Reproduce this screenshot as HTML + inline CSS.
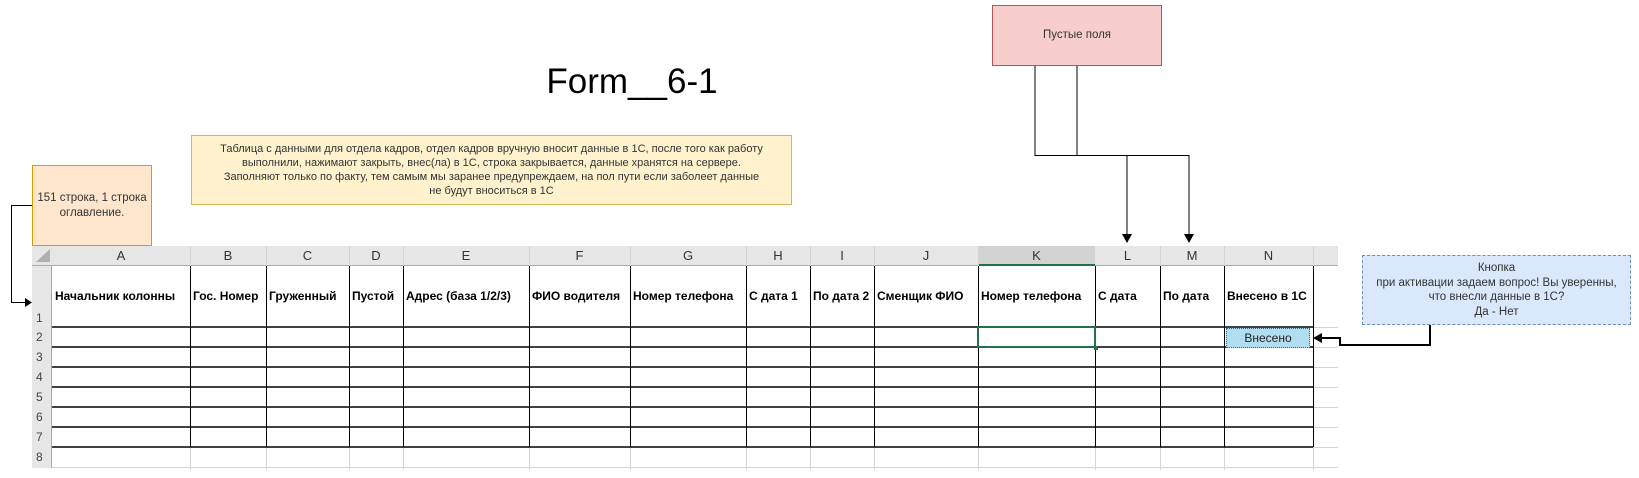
<!DOCTYPE html>
<html><head><meta charset="utf-8"><style>
body{margin:0;width:1639px;height:478px;background:#fff;position:relative;overflow:hidden;font-family:"Liberation Sans",sans-serif}
.a{position:absolute;box-sizing:border-box}
.box{display:flex;align-items:center;justify-content:center;text-align:center;font-size:11.5px;color:#333;line-height:15px}
.hd{position:absolute;top:246px;height:20px;font-size:13px;color:#333;text-align:center;line-height:20px;border-right:1px solid #d4d4d4}
.h1{position:absolute;top:289px;font-size:12px;font-weight:bold;white-space:nowrap;overflow:hidden;color:#000}
.rn{position:absolute;left:32px;width:20px;font-size:12px;color:#444;padding-left:4px;box-sizing:border-box}
</style></head><body>
<div class="a box" style="left:992px;top:5px;width:170px;height:61px;background:#f8cecc;border:1px solid #b85450">Пустые поля</div>
<div class="a" style="left:0;top:62px;width:1264px;text-align:center;font-size:35px;color:#000">Form__6-1</div>
<div class="a box" style="left:191px;top:135px;width:601px;height:70px;background:#fff2cc;border:1px solid #d6b656;font-size:11px;line-height:14px;padding:0 2px;white-space:nowrap">Таблица с данными для отдела кадров, отдел кадров вручную вносит данные в 1С, после того как работу<br>выполнили, нажимают закрыть, внес(ла) в 1С, строка закрывается, данные хранятся на сервере.<br>Заполняют только по факту, тем самым мы заранее предупреждаем, на пол пути если заболеет данные<br>не будут вноситься в 1С</div>
<div class="a box" style="left:32px;top:165px;width:120px;height:81px;background:#ffe6cc;border:1px solid #d79b00">151 строка, 1 строка оглавление.</div>
<div class="a box" style="left:1362px;top:255px;width:269px;height:70px;background:#dae8fc;border:1px dashed #6c8ebf;font-size:11.5px;line-height:14.5px;white-space:nowrap">Кнопка<br>при активации задаем вопрос! Вы уверенны,<br>что внесли данные в 1С?<br>Да - Нет</div>

<div class="a" style="left:32px;top:246px;width:1306px;height:20px;background:#e6e6e6;border-bottom:1px solid #ababab"></div>
<div class="a" style="left:32px;top:266px;width:20px;height:202px;background:#e6e6e6;border-right:1px solid #ababab"></div>
<div class="a" style="left:978px;top:246px;width:117px;height:20px;background:#d2d2d2;border-bottom:2px solid #217346"></div>
<svg class="a" style="left:0;top:0" width="1639" height="478">
<polygon points="36,262 50,262 50,249" fill="#b0b0b0"/>
<g stroke="#d4d4d4" stroke-width="1">
<line x1="52" y1="467.5" x2="1338" y2="467.5"/>
<line x1="1313" y1="327.5" x2="1338" y2="327.5"/>
<line x1="1313" y1="347.5" x2="1338" y2="347.5"/><line x1="1313" y1="367.5" x2="1338" y2="367.5"/>
<line x1="1313" y1="387.5" x2="1338" y2="387.5"/><line x1="1313" y1="407.5" x2="1338" y2="407.5"/>
<line x1="1313" y1="427.5" x2="1338" y2="427.5"/><line x1="1313" y1="447.5" x2="1338" y2="447.5"/>
<line x1="190.5" y1="447" x2="190.5" y2="470"/><line x1="266.5" y1="447" x2="266.5" y2="470"/>
<line x1="349.5" y1="447" x2="349.5" y2="470"/><line x1="403.5" y1="447" x2="403.5" y2="470"/>
<line x1="529.5" y1="447" x2="529.5" y2="470"/><line x1="630.5" y1="447" x2="630.5" y2="470"/>
<line x1="746.5" y1="447" x2="746.5" y2="470"/><line x1="810.5" y1="447" x2="810.5" y2="470"/>
<line x1="874.5" y1="447" x2="874.5" y2="470"/><line x1="978.5" y1="447" x2="978.5" y2="470"/>
<line x1="1095.5" y1="447" x2="1095.5" y2="470"/><line x1="1160.5" y1="447" x2="1160.5" y2="470"/>
<line x1="1224.5" y1="447" x2="1224.5" y2="470"/><line x1="1313.5" y1="447" x2="1313.5" y2="470"/>
</g>
<g stroke="#000" stroke-width="1.5">
<line x1="52" y1="327" x2="1313" y2="327"/><line x1="52" y1="347" x2="1313" y2="347"/>
<line x1="52" y1="367" x2="1313" y2="367"/><line x1="52" y1="387" x2="1313" y2="387"/>
<line x1="52" y1="407" x2="1313" y2="407"/><line x1="52" y1="427" x2="1313" y2="427"/>
<line x1="52" y1="447" x2="1313" y2="447"/>
</g>
<g stroke="#000" stroke-width="1">
<line x1="190.5" y1="266" x2="190.5" y2="447"/><line x1="266.5" y1="266" x2="266.5" y2="447"/>
<line x1="349.5" y1="266" x2="349.5" y2="447"/><line x1="403.5" y1="266" x2="403.5" y2="447"/>
<line x1="529.5" y1="266" x2="529.5" y2="447"/><line x1="630.5" y1="266" x2="630.5" y2="447"/>
<line x1="746.5" y1="266" x2="746.5" y2="447"/><line x1="810.5" y1="266" x2="810.5" y2="447"/>
<line x1="874.5" y1="266" x2="874.5" y2="447"/><line x1="978.5" y1="266" x2="978.5" y2="447"/>
<line x1="1095.5" y1="266" x2="1095.5" y2="447"/><line x1="1160.5" y1="266" x2="1160.5" y2="447"/>
<line x1="1224.5" y1="266" x2="1224.5" y2="447"/><line x1="1313.5" y1="266" x2="1313.5" y2="447"/>
</g>
<rect x="978" y="327" width="117" height="20" fill="none" stroke="#217346" stroke-width="2"/>
<rect x="1094" y="346" width="4" height="4" fill="#217346"/>
<g stroke="#000" stroke-width="1" fill="none">
<polyline points="1035,66 1035,155.5 1189,155.5 1189,236"/>
<polyline points="1077,66 1077,155.5"/>
<line x1="1127" y1="155.5" x2="1127" y2="236"/>
<polyline points="32,205.5 11.5,205.5 11.5,302.5 26,302.5"/>
<polyline points="1430,325 1430,345 1340,345 1340,338 1320,338" stroke-width="2"/>
</g>
<polygon points="1122,234 1132,234 1127,243" fill="#000"/>
<polygon points="1184,234 1194,234 1189,243" fill="#000"/>
<polygon points="25,298 25,307 32,302.5" fill="#000"/>
<polygon points="1322,333 1322,343 1313,338" fill="#000"/>
</svg>
<div class="a" style="left:1226px;top:328px;width:84px;height:20px;background:#b1ddf0;border:1px dotted #10739e;font-size:12px;text-align:center;line-height:18px;color:#222">Внесено</div>

<div class="hd" style="left:52px;width:138px">A</div>
<div class="hd" style="left:190px;width:76px">B</div>
<div class="hd" style="left:266px;width:83px">C</div>
<div class="hd" style="left:349px;width:54px">D</div>
<div class="hd" style="left:403px;width:126px">E</div>
<div class="hd" style="left:529px;width:101px">F</div>
<div class="hd" style="left:630px;width:116px">G</div>
<div class="hd" style="left:746px;width:64px">H</div>
<div class="hd" style="left:810px;width:64px">I</div>
<div class="hd" style="left:874px;width:104px">J</div>
<div class="hd" style="left:978px;width:117px;border-right:none">K</div>
<div class="hd" style="left:1095px;width:65px">L</div>
<div class="hd" style="left:1160px;width:64px">M</div>
<div class="hd" style="left:1224px;width:89px">N</div>

<div class="h1" style="left:55px;width:134px">Начальник колонны</div>
<div class="h1" style="left:193px;width:72px">Гос. Номер</div>
<div class="h1" style="left:269px;width:79px">Груженный</div>
<div class="h1" style="left:352px;width:50px">Пустой</div>
<div class="h1" style="left:406px;width:122px">Адрес (база 1/2/3)</div>
<div class="h1" style="left:532px;width:97px">ФИО водителя</div>
<div class="h1" style="left:633px;width:112px">Номер телефона</div>
<div class="h1" style="left:749px;width:60px">С дата 1</div>
<div class="h1" style="left:813px;width:60px">По дата 2</div>
<div class="h1" style="left:877px;width:100px">Сменщик ФИО</div>
<div class="h1" style="left:981px;width:113px">Номер телефона</div>
<div class="h1" style="left:1098px;width:61px">С дата</div>
<div class="h1" style="left:1163px;width:60px">По дата</div>
<div class="h1" style="left:1227px;width:85px">Внесено в 1С</div>

<div class="rn" style="top:311px">1</div>
<div class="rn" style="top:330px">2</div>
<div class="rn" style="top:350px">3</div>
<div class="rn" style="top:370px">4</div>
<div class="rn" style="top:390px">5</div>
<div class="rn" style="top:410px">6</div>
<div class="rn" style="top:430px">7</div>
<div class="rn" style="top:450px">8</div>
</body></html>
